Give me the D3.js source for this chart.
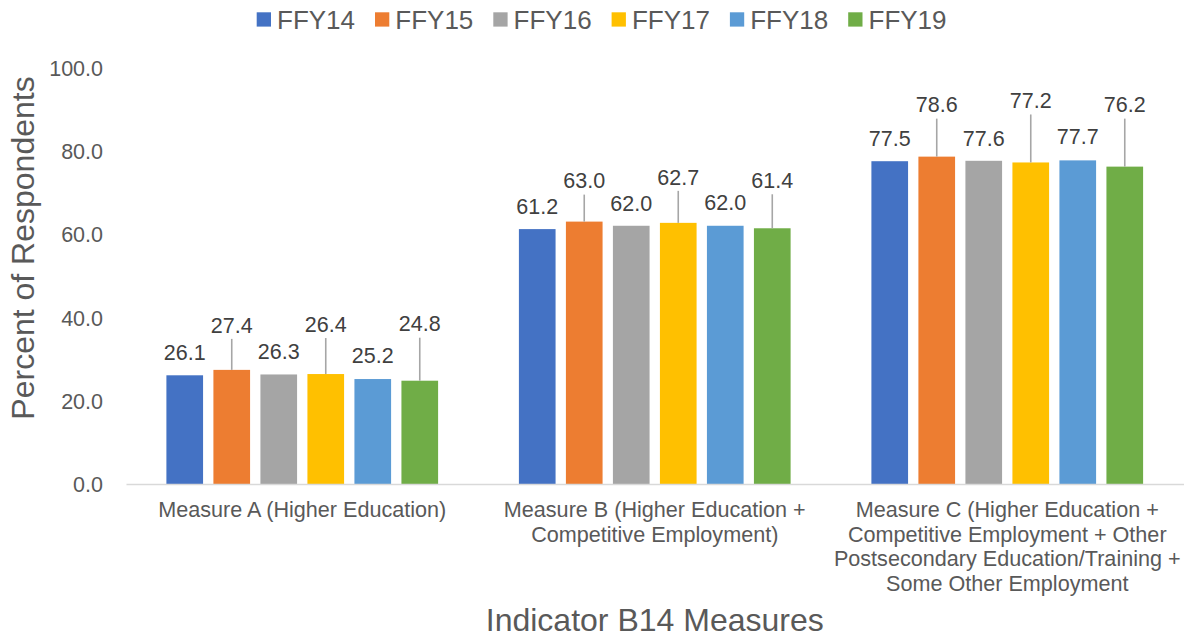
<!DOCTYPE html>
<html>
<head>
<meta charset="utf-8">
<script src="https://cdn.jsdelivr.net/npm/d3@7"></script>
<style>
  html, body { margin: 0; padding: 0; background: #ffffff; }
  svg { display: block; font-family: "Liberation Sans", Arial, sans-serif; }
</style>
</head>
<body>
<svg id="chart" width="1187" height="639"></svg>
<script>
// Indicator B14 measures, percent of respondents by federal fiscal year
const categories = [
  "Measure A (Higher Education)",
  "Measure B (Higher Education +\nCompetitive Employment)",
  "Measure C (Higher Education +\nCompetitive Employment + Other\nPostsecondary Education/Training +\nSome Other Employment"
];
const seriesNames = ["FFY14", "FFY15", "FFY16", "FFY17", "FFY18", "FFY19"];
const ffy14 = [26.1, 61.2, 77.5];
const ffy15 = [27.4, 63.0, 78.6];
const ffy16 = [26.3, 62.0, 77.6];
const ffy17 = [26.4, 62.7, 77.2];
const ffy18 = [25.2, 62.0, 77.7];
const ffy19 = [24.8, 61.4, 76.2];
const yTicks = [0, 20, 40, 60, 80, 100];

const seriesValues = [ffy14, ffy15, ffy16, ffy17, ffy18, ffy19];
const colors = ["#4472C4", "#ED7D31", "#A5A5A5", "#FFC000", "#5B9BD5", "#70AD47"];

// Distance (px) from bar top to label centre; larger lifts get a leader line
const labelLift = [
  [23, 45, 23, 50, 24, 57],
  [23, 41, 23, 46, 24, 48],
  [23, 52, 23, 62, 24, 62]
];

const svg = d3.select("#chart");
const plot = { left: 126, right: 1183.5, top: 67.5, bottom: 484 };
const fontFamily = '"Liberation Sans", Arial, sans-serif';

const x0 = d3.scaleBand().domain(categories).range([plot.left, plot.right]).padding(0);
const groupPad = 40.4;
const x1 = d3.scaleBand().domain(seriesNames)
  .range([groupPad, x0.bandwidth() - groupPad]).paddingInner(0.22).paddingOuter(0);
const y = d3.scaleLinear().domain([0, 100]).range([plot.bottom, plot.top]);

// Y axis tick labels (no gridlines, no axis line)
const yAxis = d3.axisLeft(y).tickValues(yTicks).tickFormat(d3.format(".1f")).tickSize(0).tickPadding(0);
const yG = svg.append("g").attr("transform", `translate(${plot.left - 23},0)`).call(yAxis);
yG.select(".domain").remove();
yG.selectAll("text").attr("font-size", 21.5).attr("fill", "#595959")
  .attr("font-family", fontFamily).attr("dy", "0.36em");

// Bars
const rows = [];
categories.forEach((c, ci) => {
  seriesNames.forEach((s, si) => {
    rows.push({ cat: c, ci, series: s, si, value: seriesValues[si][ci] });
  });
});

const groups = svg.append("g").selectAll("g").data(categories).join("g")
  .attr("transform", d => `translate(${x0(d)},0)`);

groups.selectAll("rect")
  .data(c => rows.filter(r => r.cat === c))
  .join("rect")
  .attr("x", d => x1(d.series))
  .attr("y", d => y(d.value))
  .attr("width", x1.bandwidth())
  .attr("height", d => y(0) - y(d.value))
  .attr("fill", d => colors[d.si]);

// X axis baseline
const xAxis = d3.axisBottom(x0).tickSize(0).tickFormat("");
const xG = svg.append("g").attr("transform", `translate(0,${y(0)})`).call(xAxis);
xG.select(".domain").attr("stroke", "#d9d9d9").attr("stroke-width", 1.5);

// Category labels, wrapped on explicit breaks
xG.selectAll(".tick").each(function (d) {
  const t = d3.select(this).append("text")
    .attr("text-anchor", "middle")
    .attr("font-size", 21.6)
    .attr("fill", "#595959")
    .attr("font-family", fontFamily);
  d.split("\n").forEach((line, i) => {
    t.append("tspan").attr("x", 0).attr("y", 33 + i * 24.5).text(line);
  });
});

// Data labels and leader lines
const labelG = svg.append("g");
rows.forEach(r => {
  const cx = x0(r.cat) + x1(r.series) + x1.bandwidth() / 2;
  const top = y(r.value);
  const lift = labelLift[r.ci][r.si];
  const cy = top - lift;
  if (lift > 30) {
    labelG.append("line")
      .attr("x1", cx).attr("x2", cx)
      .attr("y1", cy + 14).attr("y2", top)
      .attr("stroke", "#a6a6a6").attr("stroke-width", 1.6);
  }
  labelG.append("text")
    .attr("x", cx).attr("y", cy)
    .attr("dy", "0.36em")
    .attr("text-anchor", "middle")
    .attr("font-size", 21.5)
    .attr("fill", "#404040")
    .text(d3.format(".1f")(r.value));
});

// Axis titles
svg.append("text")
  .attr("transform", `translate(34,248) rotate(-90)`)
  .attr("text-anchor", "middle")
  .attr("font-size", 32)
  .attr("fill", "#595959")
  .text("Percent of Respondents");

svg.append("text")
  .attr("x", (plot.left + plot.right) / 2)
  .attr("y", 631)
  .attr("text-anchor", "middle")
  .attr("font-size", 32)
  .attr("fill", "#595959")
  .text("Indicator B14 Measures");

// Legend
const legendStep = 118.3;
const legendStart = 256.7;
const legend = svg.append("g").selectAll("g").data(seriesNames).join("g")
  .attr("transform", (d, i) => `translate(${legendStart + i * legendStep},0)`);
legend.append("rect")
  .attr("x", 0).attr("y", 12.3).attr("width", 14.3).attr("height", 14.3)
  .attr("fill", (d, i) => colors[i]);
legend.append("text")
  .attr("x", 20.3).attr("y", 19.5).attr("dy", "0.36em")
  .attr("font-size", 26)
  .attr("fill", "#595959")
  .text(d => d);
</script>
</body>
</html>
